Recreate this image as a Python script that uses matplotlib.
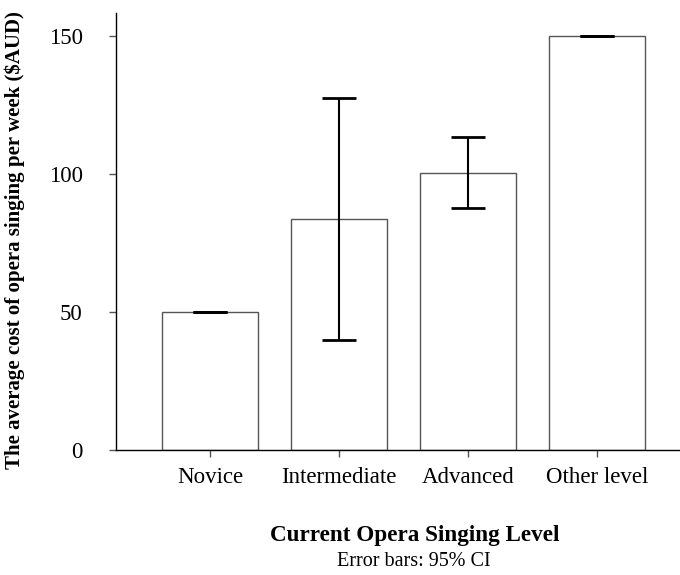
import numpy as np
import matplotlib
matplotlib.use('Agg')
import matplotlib.pyplot as plt

plt.rcParams['font.family'] = ['Liberation Serif', 'DejaVu Serif']

levels = ['Novice', 'Intermediate', 'Advanced', 'Other level']
means = [50.0, 83.8, 100.5, 150.0]
ciLow = [50.0, 40.0, 87.8, 150.0]
ciHigh = [50.0, 127.5, 113.3, 150.0]

means = np.array(means)
yerr = np.array([means - np.array(ciLow), np.array(ciHigh) - means])
x = np.arange(len(levels))

fig = plt.figure(figsize=(6.8, 5.75), dpi=100)
ax = fig.add_axes([0.1706, 0.2174, 0.8294, 0.7600])

ax.bar(x, means, width=0.75, color='white', edgecolor='#555555', linewidth=1.0, zorder=2)
ax.errorbar(x, means, yerr=yerr, fmt='none', ecolor='black', elinewidth=1.5,
            capsize=12, capthick=2, zorder=3)

ax.set_xlim(-0.729, 3.643)
ax.set_ylim(0, 158.3)
ax.set_yticks([0, 50, 100, 150])
ax.set_xticks(x)
ax.set_xticklabels(levels, fontsize=16.5)
for label in ax.get_yticklabels(): label.set_fontsize(16.5)

ax.spines['top'].set_visible(False)
ax.spines['right'].set_visible(False)
ax.spines['left'].set_linewidth(1.0)
ax.spines['bottom'].set_linewidth(1.0)
ax.tick_params(axis='y', length=5, width=1, color='#555555', pad=19)
ax.tick_params(axis='x', length=5, width=1, color='#555555', pad=7)

fig.text(15/680, 1 - 240/575, 'The average cost of opera singing per week ($AUD)',
         rotation=90, ha='center', va='center', fontsize=15, fontweight='bold')
fig.text(415/680, 1 - 536/575, 'Current Opera Singing Level', ha='center', va='center',
         fontsize=16.7, fontweight='bold')
fig.text(414/680, 1 - 561/575, 'Error bars: 95% CI', ha='center', va='center', fontsize=14.5)

fig.savefig('out.png', dpi=100)
